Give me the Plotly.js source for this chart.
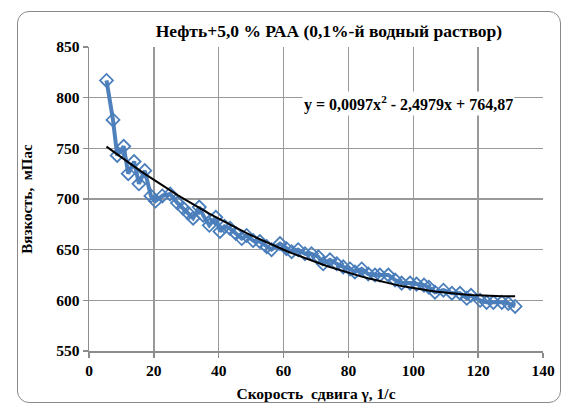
<!DOCTYPE html>
<html>
<head>
<meta charset="utf-8">
<script src="https://cdn.plot.ly/plotly-3.0.1.min.js"></script>
<style>
  html, body { margin: 0; padding: 0; background: #fff; }
  #wrap { position: relative; width: 567px; height: 407px; }
  #chart { width: 567px; height: 407px; }
  #frame { position: absolute; left: 17px; top: 11px; width: 542px; height: 390px;
           border: 1.5px solid #8a8a8a; border-radius: 12px; pointer-events: none; }
</style>
</head>
<body>
<div id="wrap">
  <div id="chart"></div>
  <div id="frame"></div>
</div>
<script>
// Shear rate, 1/s
const shearRate = [5.4, 7.4, 8.7, 10.7, 12.1, 13.9, 15.4, 17.2, 19.1, 20.5,
  22.6, 25.0, 27.3, 29.0, 30.6, 32.1, 34.0, 35.2, 37.1, 39.1,
  40.4, 41.8, 43.5, 45.3, 47.1, 48.6, 50.6, 52.7, 54.8, 56.3,
  58.9, 60.9, 62.5, 64.5, 66.6, 68.6, 70.7, 72.2, 74.3, 76.4,
  78.4, 80.5, 82.0, 84.1, 86.1, 88.2, 89.7, 92.3, 94.4, 96.4,
  99.0, 101.0, 103.3, 104.8, 106.7, 109.3, 111.9, 114.4, 116.5, 117.8,
  120.6, 122.6, 124.7, 127.3, 129.3, 131.4];
// Viscosity, mPa*s
const viscosity = [817, 778, 743, 752, 725, 737, 715, 728, 703, 698,
  703, 705, 696, 691, 686, 681, 692, 684, 674, 682,
  668, 673, 671, 666, 661, 664, 659, 658, 653, 650,
  656, 651, 648, 650, 646, 646, 643, 636, 640, 636,
  633, 631, 628, 631, 626, 625, 625, 625, 620, 617,
  617, 616, 615, 613, 608, 610, 607, 607, 602, 605,
  600, 598, 598, 598, 597, 594];
// Trendline coefficients shown on the chart: y = a x^2 + b x + c
const trendA = 0.0097, trendB = -2.4979, trendC = 764.87;
const trendLabel = 'y = 0,0097x<sup>2</sup> - 2,4979x + 764,87';
const xTicks = [0, 20, 40, 60, 80, 100, 120, 140];
const yTicks = [550, 600, 650, 700, 750, 800, 850];

const trendY = shearRate.map(x => trendA * x * x + trendB * x + trendC);

const font = 'Liberation Serif, Times New Roman, serif';
const traces = [
  {
    x: shearRate, y: viscosity, type: 'scatter', mode: 'lines+markers',
    line: { color: '#4F81BD', width: 4 },
    marker: { symbol: 'diamond-open', size: 10, color: '#4A7EBB', line: { width: 1.8, color: '#4A7EBB' } },
    showlegend: false, hoverinfo: 'skip'
  },
  {
    x: shearRate, y: trendY, type: 'scatter', mode: 'lines',
    line: { color: '#000000', width: 2 },
    showlegend: false, hoverinfo: 'skip'
  }
];

const layout = {
  width: 567, height: 407,
  margin: { l: 89, r: 24, t: 47, b: 56 },
  paper_bgcolor: 'rgba(0,0,0,0)', plot_bgcolor: '#ffffff',
  font: { family: font, color: '#000', size: 13 },
  title: {
    text: '<b>Нефть+5,0 % РАА (0,1%-й водный раствор)</b>',
    font: { family: font, size: 17.5, color: '#000' },
    x: 0.58, xanchor: 'center', y: 0.925, yanchor: 'middle'
  },
  xaxis: {
    range: [0, 140], tickvals: xTicks, ticktext: xTicks.map(v => '<b>' + v + '</b>'),
    showgrid: true, gridcolor: '#999999', gridwidth: 1.5,
    showline: true, linecolor: '#8c8c8c', linewidth: 1.5,
    ticks: 'outside', ticklen: 5, tickcolor: '#8c8c8c', tickwidth: 1.5,
    zeroline: false, tickfont: { family: font, size: 15.5, color: '#000' },
    title: { text: '<b>Скорость  сдвига γ, 1/с</b>', font: { family: font, size: 15.5, color: '#000' }, standoff: 10 }
  },
  yaxis: {
    range: [550, 850], tickvals: yTicks, ticktext: yTicks.map(v => '<b>' + v + '</b>'),
    showgrid: true, gridcolor: '#999999', gridwidth: 1.5,
    showline: true, linecolor: '#8c8c8c', linewidth: 1.5,
    ticks: 'outside', ticklen: 5, tickcolor: '#8c8c8c', tickwidth: 1.5,
    zeroline: false, tickfont: { family: font, size: 15.5, color: '#000' },
    title: { text: '<b>Вязкость,  мПас</b>', font: { family: font, size: 15, color: '#000' }, standoff: 20 }
  },
  annotations: [{
    text: '<b>' + trendLabel + '</b>', xref: 'paper', yref: 'paper',
    x: 0.703, y: 0.815, xanchor: 'center', yanchor: 'middle', showarrow: false,
    bgcolor: '#ffffff', font: { family: font, size: 16, color: '#000' }
  }]
};

Plotly.newPlot('chart', traces, layout, { staticPlot: true, displayModeBar: false });
</script>
</body>
</html>
